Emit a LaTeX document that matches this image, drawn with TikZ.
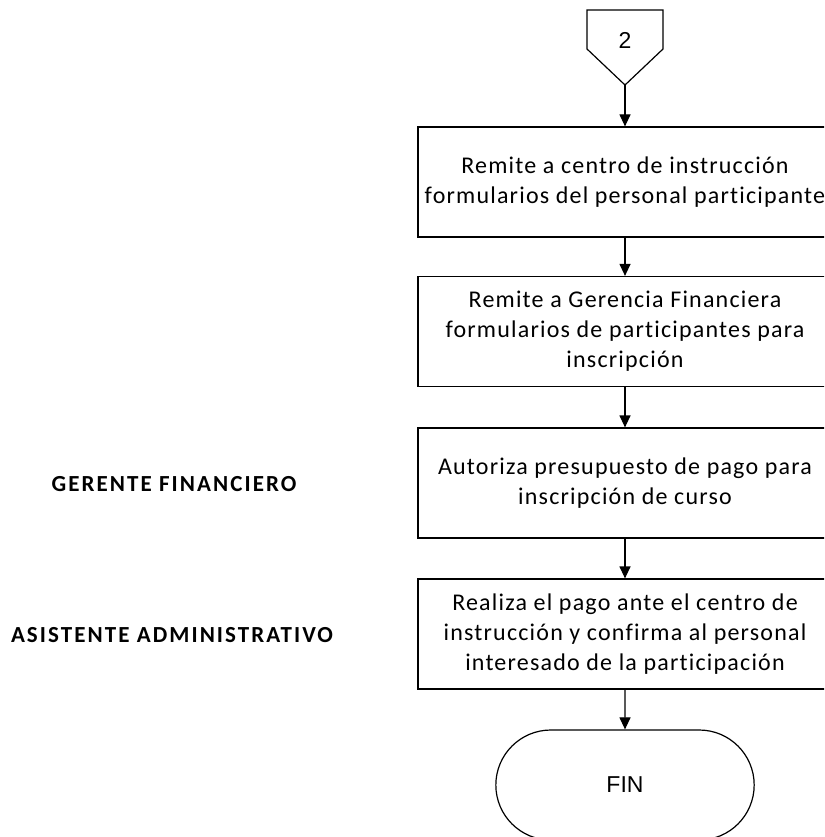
\documentclass[tikz,border=0pt]{standalone}
\usepackage{fontspec}
\setmainfont{Carlito}
\newfontfamily\boxfont[LetterSpace=5,Ligatures=NoCommon]{Carlito}
\newfontfamily\rolefont[LetterSpace=9]{Carlito}
\newfontfamily\arialfont{Liberation Sans}
\usetikzlibrary{shapes.geometric,shapes.misc,arrows.meta}

\begin{document}
\begin{tikzpicture}[
    x=1pt, y=-1pt,
    proc/.style={
      rectangle,
      draw,
      line width=1.2pt,
      minimum width=414pt,
      minimum height=110pt,
      align=center,
      font=\boxfont\fontsize{24}{30}\selectfont
    },
    term/.style={
      rounded rectangle,
      draw,
      line width=1.2pt,
      minimum width=265pt,
      minimum height=110pt,
      font=\arialfont\fontsize{23}{27}\selectfont
    },
    role/.style={
      font=\rolefont\bfseries\fontsize{23}{27}\selectfont
    },
    flow/.style={
      -{Triangle[length=12pt,width=11pt]},
      line width=1.2pt
    }
  ]

  \useasboundingbox (0,0) rectangle (824,837);
  \clip (0,0) rectangle (824,837);

  % off-page connector
  \coordinate (p2) at (625,85);
  \draw[line width=1.2pt] (587,10) -- (663,10) -- (663,49) -- (p2) -- (587,49) -- cycle;
  \node[font=\arialfont\fontsize{23}{27}\selectfont] (c2) at (625,40) {2};

  \node[proc] (r1) at (625,182) {Remite a centro de instrucción\\formularios del personal participante};
  \node[proc] (r2) at (625,331.5) {Remite a Gerencia Financiera\\formularios de participantes para\\inscripción};
  \node[proc] (a1) at (625,483) {Autoriza presupuesto de pago para\\inscripción de curso};
  \node[proc] (p1) at (625,634) {Realiza el pago ante el centro de\\instrucción y confirma al personal\\interesado de la participación};
  \node[term] (fin) at (625,785) {FIN};

  \node[role] (gf) at (174,484) {GERENTE FINANCIERO};
  \node[role] (aa) at (172,635) {ASISTENTE ADMINISTRATIVO};

  \draw[flow] (p2) -- (r1);
  \draw[flow] (r1) -- (r2);
  \draw[flow] (r2) -- (a1);
  \draw[flow] (a1) -- (p1);
  \draw[flow] (p1) -- (fin);

\end{tikzpicture}
\end{document}
